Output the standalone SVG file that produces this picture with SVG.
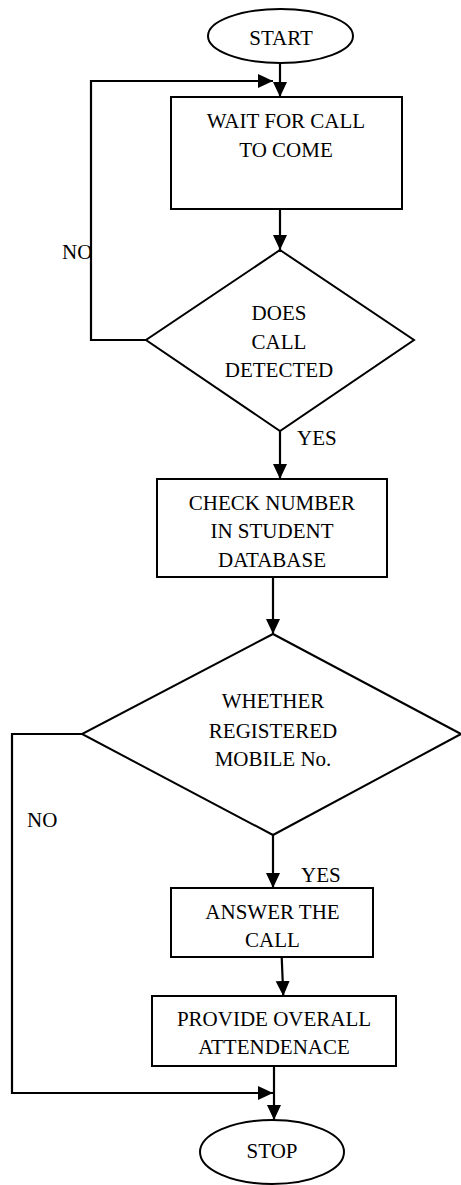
<svg xmlns="http://www.w3.org/2000/svg" width="461" height="1185" viewBox="0 0 461 1185">
<defs>
<marker id="arr" markerUnits="userSpaceOnUse" markerWidth="16" markerHeight="15" refX="15" refY="7" orient="auto">
<path d="M0,0 L15,7 L0,14 z" fill="#000"/>
</marker>
<style>
.shape{fill:#fff;stroke:#000;stroke-width:2}
.conn{fill:none;stroke:#000;stroke-width:2.2}
text{font-family:"Liberation Serif","Times New Roman",serif;font-size:21px;fill:#000}
.c{text-anchor:middle}
</style>
</defs>
<rect width="461" height="1185" fill="#fff"/>
<g id="connectors">
<line class="conn" x1="280" y1="63" x2="280" y2="97" marker-end="url(#arr)"/>
<polyline class="conn" points="146,340 91,340 91,81 273,81" marker-end="url(#arr)"/>
<line class="conn" x1="280" y1="209" x2="280" y2="250" marker-end="url(#arr)"/>
<line class="conn" x1="280" y1="431" x2="280" y2="479" marker-end="url(#arr)"/>
<line class="conn" x1="273" y1="577" x2="273" y2="634" marker-end="url(#arr)"/>
<polyline class="conn" points="82,734 12,734 12,1093 273,1093" marker-end="url(#arr)"/>
<line class="conn" x1="273" y1="835" x2="273" y2="888" marker-end="url(#arr)"/>
<line class="conn" x1="281.7" y1="957" x2="283.3" y2="996" marker-end="url(#arr)"/>
<line class="conn" x1="274" y1="1066" x2="274" y2="1120" marker-end="url(#arr)"/>
<text x="62" y="259">NO</text>
<text x="297" y="445">YES</text>
<text x="27" y="827">NO</text>
<text x="301" y="882">YES</text>
</g>
<g id="start">
<ellipse class="shape" cx="280.5" cy="36" rx="72.5" ry="27"/>
<text class="c" x="281" y="45">START</text>
</g>
<g id="wait">
<rect class="shape" x="171" y="97" width="231" height="112"/>
<text class="c" x="286" y="128">WAIT FOR CALL</text>
<text class="c" x="286" y="157">TO COME</text>
</g>
<g id="detect">
<polygon class="shape" points="280,250 414,340 280,431 146,340"/>
<text class="c" x="279" y="320">DOES</text>
<text class="c" x="279" y="349">CALL</text>
<text class="c" x="279" y="377">DETECTED</text>
</g>
<g id="check">
<rect class="shape" x="157" y="479" width="230" height="98"/>
<text class="c" x="272" y="510">CHECK NUMBER</text>
<text class="c" x="272" y="538">IN STUDENT</text>
<text class="c" x="272" y="567">DATABASE</text>
</g>
<g id="registered">
<polygon class="shape" points="273,634 461,734 273,835 82,734"/>
<text class="c" x="273" y="708">WHETHER</text>
<text class="c" x="273" y="738">REGISTERED</text>
<text class="c" x="273" y="766">MOBILE No.</text>
</g>
<g id="answer">
<rect class="shape" x="171" y="888" width="202" height="69"/>
<text class="c" x="272.5" y="919">ANSWER THE</text>
<text class="c" x="272.5" y="947">CALL</text>
</g>
<g id="provide">
<rect class="shape" x="152" y="996" width="244" height="70"/>
<text class="c" x="274" y="1026">PROVIDE OVERALL</text>
<text class="c" x="274" y="1054">ATTENDENACE</text>
</g>
<g id="stop">
<ellipse class="shape" cx="272" cy="1152" rx="72" ry="32"/>
<text class="c" x="272" y="1158">STOP</text>
</g>
</svg>
